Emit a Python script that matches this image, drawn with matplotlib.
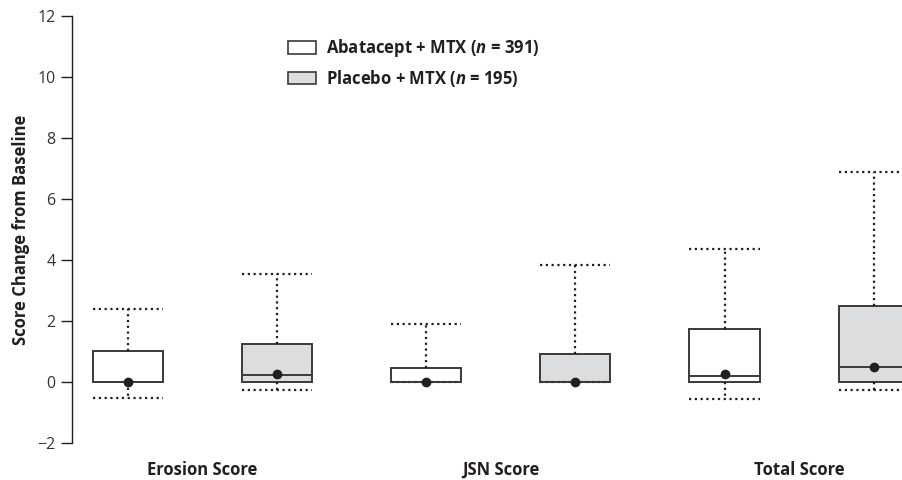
import matplotlib
matplotlib.use('Agg')
import matplotlib.pyplot as plt
from matplotlib.patches import Patch

plt.rcParams['font.family'] = ['Open Sans', 'DejaVu Sans']
plt.rcParams['mathtext.fontset'] = 'custom'
plt.rcParams['mathtext.it'] = 'Open Sans:italic:bold'
plt.rcParams['mathtext.rm'] = 'Open Sans:bold'

# data
groups = ['Erosion Score', 'JSN Score', 'Total Score']
series = ['Abatacept + MTX ($n$ = 391)', 'Placebo + MTX ($n$ = 195)']

aba_q1 = [0.0, 0.0, 0.0]
aba_q3 = [1.02, 0.46, 1.73]
aba_med = [0.0, 0.0, 0.21]
aba_mean = [0.0, 0.0, 0.25]
aba_lo = [-0.52, 0.0, -0.57]
aba_hi = [2.39, 1.89, 4.36]

pla_q1 = [0.0, 0.0, 0.0]
pla_q3 = [1.24, 0.93, 2.50]
pla_med = [0.22, 0.0, 0.49]
pla_mean = [0.25, 0.0, 0.50]
pla_lo = [-0.27, 0.0, -0.26]
pla_hi = [3.55, 3.83, 6.87]

colors = ['white', '#dcdddf']
ink = '#231f20'
edge = '#3a3a3a'


def stats(q1, q3, med, mean, lo, hi):
    out = []
    for i in range(len(q1)):
        out.append(dict(q1=q1[i], q3=q3[i], med=med[i], mean=mean[i],
                        whislo=lo[i], whishi=hi[i], fliers=[]))
    return out


fig = plt.figure(figsize=(9.02, 4.8), dpi=100)
ax = fig.add_axes([0.0798, 0.0771, 0.9202, 0.8896])

all_stats = [stats(aba_q1, aba_q3, aba_med, aba_mean, aba_lo, aba_hi),
             stats(pla_q1, pla_q3, pla_med, pla_mean, pla_lo, pla_hi)]

width = 0.47
for k, st in enumerate(all_stats):
    pos = [2 * i + k for i in range(len(groups))]
    ax.bxp(st, positions=pos, widths=width, capwidths=width,
           showmeans=True, showfliers=False, patch_artist=True,
           boxprops=dict(facecolor=colors[k], edgecolor=edge, linewidth=1.4),
           medianprops=dict(color=edge, linewidth=1.4),
           whiskerprops=dict(color=ink, linestyle=(0, (1, 1.6)), linewidth=1.6),
           capprops=dict(color=ink, linestyle=(0, (1, 1.6)), linewidth=1.6),
           meanprops=dict(marker='o', markerfacecolor=ink, markeredgecolor=ink,
                          markersize=6))

ax.set_xlim(-0.375, 5.19)
ax.set_ylim(-2, 12)
ax.set_yticks(range(-2, 13, 2))
ax.set_yticklabels(['\u22122'] + [str(v) for v in range(0, 13, 2)])
ax.set_xticks([0.5, 2.5, 4.5])
ax.set_xticklabels(groups, fontsize=12, fontweight='bold', color=ink)
ax.tick_params(axis='x', length=0, pad=13)
ax.tick_params(axis='y', direction='out', length=8, width=1, color=ink,
               labelsize=11.5, labelcolor='#333333', pad=4)

for s in ['top', 'right', 'bottom']:
    ax.spines[s].set_visible(False)
ax.spines['left'].set_color(ink)
ax.spines['left'].set_linewidth(1)

ax.set_ylabel('Score Change from Baseline', fontsize=12, fontweight='bold',
              color=ink, labelpad=5)

handles = [Patch(facecolor=colors[k], edgecolor=edge, linewidth=1.2, label=series[k])
           for k in range(2)]
ax.legend(handles=handles, loc='upper left', bbox_to_anchor=(0.242, 0.985),
          frameon=False, prop=dict(size=12, weight='bold'),
          handlelength=1.7, handleheight=0.75, handletextpad=0.6,
          labelspacing=0.5, labelcolor=ink)

fig.savefig('out.png', dpi=100)
